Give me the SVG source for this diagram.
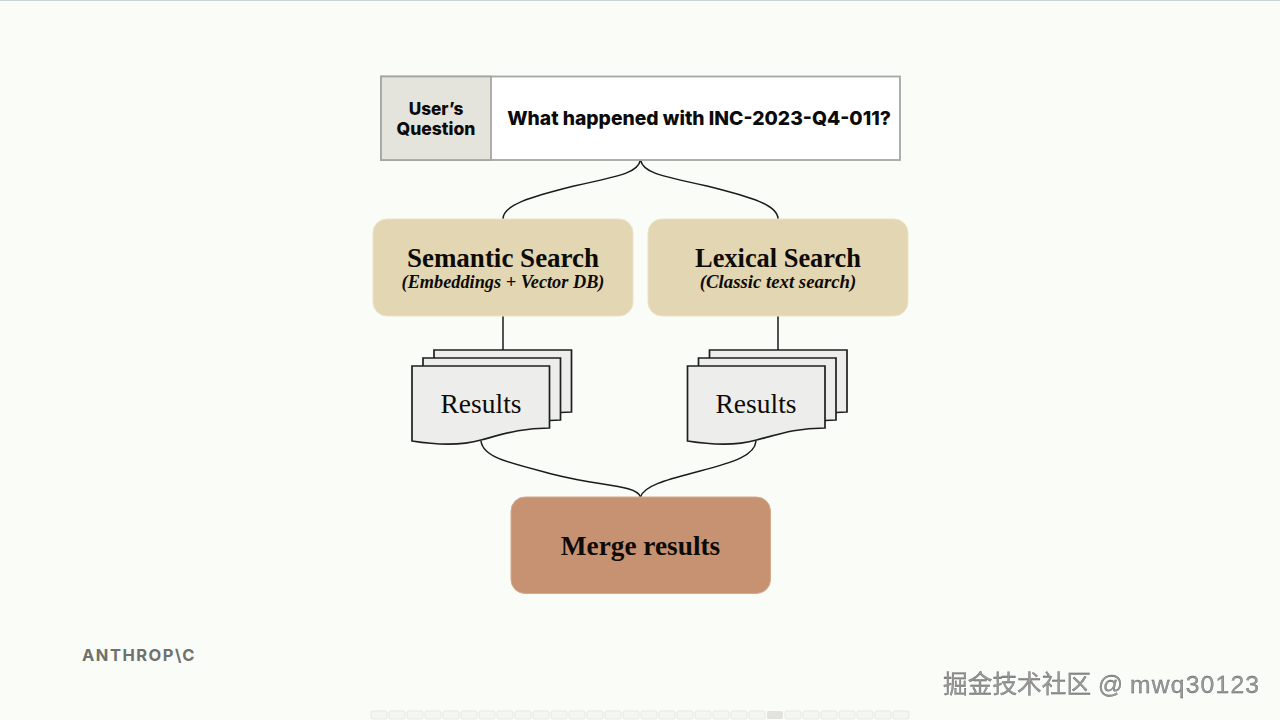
<svg xmlns="http://www.w3.org/2000/svg" width="1280" height="720" viewBox="0 0 1280 720">
<defs>
<style>
.q{font-family:"Inter","Open Sans","Liberation Sans",sans-serif;font-weight:800;fill:#0b0b0b;text-anchor:middle}
.s{font-family:"Liberation Serif","Noto Serif",serif;fill:#0d0b08;text-anchor:middle}
.card{fill:#e3d6b2;stroke:#ece3c8;stroke-width:1}
.doc{fill:#ededeb;stroke:#1f1f1f;stroke-width:1.7;stroke-linejoin:miter}
.c{fill:none;stroke:#1a1a1a;stroke-width:1.500}
.p{fill:#f5f6f2;stroke:#e8e9e5;stroke-width:1}
</style>
<path id="sheet" class="doc" d="M0 0H137.500V62C110 62 95 67 69 74C50 79.500 25 79 0 75Z"/>
</defs>
<rect width="1280" height="720" fill="#fafcf8"/>
<rect width="1280" height="1" fill="#c9d3d8"/>
<g id="connectors">
<path class="c" d="M640.500 160C638 172 625 175 574 186C530 197 503 205 503 219"/>
<path class="c" d="M640.500 160C643 172 656 175 707 186C751 197 778 205 778 219"/>
<path class="c" d="M503 316V350"/>
<path class="c" d="M778 316V350"/>
<path class="c" d="M481 441C483 458 510 463 560 476C600 486 637 485 640.500 497"/>
<path class="c" d="M756 441C755 455 735 462 700 471C670 479 644 485 640.500 497"/>
</g>
<g id="question">
<rect x="381" y="76.500" width="519" height="83.500" fill="#ffffff" stroke="#a6a7a3" stroke-width="1.800"/>
<rect x="381" y="76.500" width="110" height="83.500" fill="#e4e3dc" stroke="#a6a7a3" stroke-width="1.800"/>
<text class="q" x="436" y="114.500" font-size="17.200">User’s</text>
<text class="q" x="436" y="134.500" font-size="17.500">Question</text>
<text class="q" x="699" y="125" font-size="19.300">What happened with INC-2023-Q4-011?</text>
</g>
<g id="semantic">
<rect class="card" x="373" y="219" width="260" height="97" rx="14"/>
<text class="s" x="503" y="266.500" font-size="27" font-weight="700">Semantic Search</text>
<text class="s" x="503" y="288" font-size="18.300" font-weight="700" font-style="italic">(Embeddings + Vector DB)</text>
</g>
<g id="lexical">
<rect class="card" x="648" y="219" width="260" height="97" rx="14"/>
<text class="s" x="778" y="266.500" font-size="26.400" font-weight="700">Lexical Search</text>
<text class="s" x="778" y="288" font-size="18.800" font-weight="700" font-style="italic">(Classic text search)</text>
</g>
<g id="results-left">
<use href="#sheet" x="434" y="350"/>
<use href="#sheet" x="423" y="358"/>
<use href="#sheet" x="412" y="366"/>
<text class="s" x="481" y="413" font-size="27.500">Results</text>
</g>
<g id="results-right">
<use href="#sheet" x="709.500" y="350"/>
<use href="#sheet" x="698.500" y="358"/>
<use href="#sheet" x="687.500" y="366"/>
<text class="s" x="756" y="413" font-size="27.500">Results</text>
</g>
<g id="merge">
<rect x="511" y="497" width="259.500" height="96.500" rx="14" fill="#c79272" stroke="#d3ab90" stroke-width="1"/>
<text class="s" x="640.500" y="554.500" font-size="27.300" font-weight="700">Merge results</text>
</g>
<text x="82" y="661" font-family="Inter,&quot;Liberation Sans&quot;,sans-serif" font-weight="700" font-size="16.500" letter-spacing="1.500" fill="#6f716c">ANTHROP\C</text>
<g id="pager">
<rect class="p" x="371" y="711" width="16" height="8" rx="2"/><rect class="p" x="389" y="711" width="16" height="8" rx="2"/><rect class="p" x="407" y="711" width="16" height="8" rx="2"/><rect class="p" x="425" y="711" width="16" height="8" rx="2"/><rect class="p" x="443" y="711" width="16" height="8" rx="2"/><rect class="p" x="461" y="711" width="16" height="8" rx="2"/><rect class="p" x="479" y="711" width="16" height="8" rx="2"/><rect class="p" x="497" y="711" width="16" height="8" rx="2"/><rect class="p" x="515" y="711" width="16" height="8" rx="2"/><rect class="p" x="533" y="711" width="16" height="8" rx="2"/><rect class="p" x="551" y="711" width="16" height="8" rx="2"/><rect class="p" x="569" y="711" width="16" height="8" rx="2"/><rect class="p" x="587" y="711" width="16" height="8" rx="2"/><rect class="p" x="605" y="711" width="16" height="8" rx="2"/><rect class="p" x="623" y="711" width="16" height="8" rx="2"/><rect class="p" x="641" y="711" width="16" height="8" rx="2"/><rect class="p" x="659" y="711" width="16" height="8" rx="2"/><rect class="p" x="677" y="711" width="16" height="8" rx="2"/><rect class="p" x="695" y="711" width="16" height="8" rx="2"/><rect class="p" x="713" y="711" width="16" height="8" rx="2"/><rect class="p" x="731" y="711" width="16" height="8" rx="2"/><rect class="p" x="749" y="711" width="16" height="8" rx="2"/><rect x="767" y="711" width="16" height="8" rx="2" fill="#e2e2de"/><rect class="p" x="785" y="711" width="16" height="8" rx="2"/><rect class="p" x="803" y="711" width="16" height="8" rx="2"/><rect class="p" x="821" y="711" width="16" height="8" rx="2"/><rect class="p" x="839" y="711" width="16" height="8" rx="2"/><rect class="p" x="857" y="711" width="16" height="8" rx="2"/><rect class="p" x="875" y="711" width="16" height="8" rx="2"/><rect class="p" x="893" y="711" width="16" height="8" rx="2"/>
</g>
<text x="943" y="693" font-family="&quot;Liberation Sans&quot;,&quot;Noto Sans CJK SC&quot;,sans-serif" font-size="24.700" fill="#9a9a9a" stroke="#555555" stroke-width=".3" style="filter:drop-shadow(1px 1px 0 #ffffff)">掘金技术社区 @ <tspan letter-spacing="1.200">mwq30123</tspan></text>
</svg>
